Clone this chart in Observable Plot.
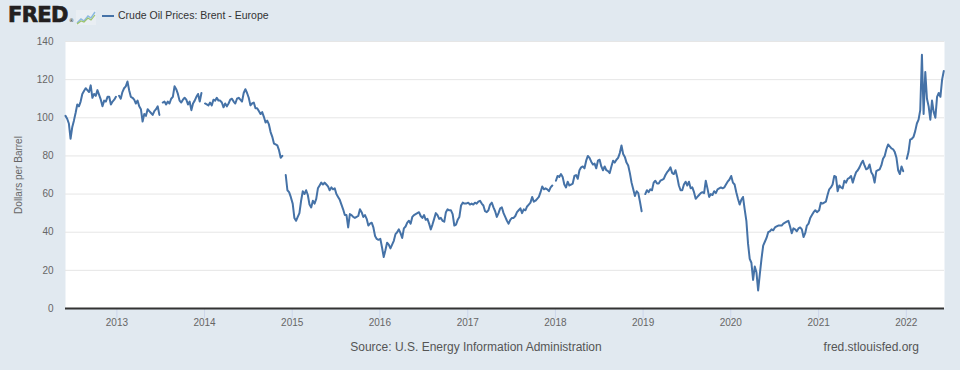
<!DOCTYPE html>
<html>
<head>
<meta charset="utf-8">
<script src="https://cdn.jsdelivr.net/npm/d3@7"></script>
<script src="https://cdn.jsdelivr.net/npm/@observablehq/plot@0.6"></script>
<style>
  html, body { margin: 0; padding: 0; background: #e1e9f0; }
  #wrap { position: relative; width: 960px; height: 370px; background: #e1e9f0; overflow: hidden;
          font-family: "Liberation Sans", Arial, sans-serif; }
  #chart { position: absolute; left: 0; top: 30px; }
  #logo { position: absolute; left: 8px; top: 3px; font: bold 21px "DejaVu Sans", sans-serif; color: #231f20;
          letter-spacing: -0.6px; -webkit-text-stroke: 0.7px #231f20; }
  #logo sup { font-size: 5px; font-weight: normal; vertical-align: 0; margin-left: 1px; -webkit-text-stroke: 0; }
  #icon { position: absolute; left: 76px; top: 10px; }
  #legline { position: absolute; left: 102px; top: 15px; width: 12px; height: 2px; background: #4572a7; }
  #legtext { position: absolute; left: 118px; top: 9px; font-size: 10.5px; color: #333; white-space: nowrap; }
  #source { position: absolute; left: 0; width: 952px; text-align: center; top: 340px; font-size: 12px; color: #555; }
  #site { position: absolute; right: 41px; top: 340px; font-size: 12px; color: #555; }
</style>
</head>
<body>
<div id="wrap">
  <div id="logo">FRED<sup>®</sup></div>
  <svg id="icon" width="20" height="15" viewBox="0 0 20 15">
    <rect x="0" y="0" width="20" height="15" fill="#e9eef3"/>
    <polyline points="1,13 5,9 8,11 12,6 15,8 19,2" fill="none" stroke="#8cb9e0" stroke-width="1.5"/>
    <polyline points="1,14 5,11 8,12 12,8 15,10 19,5" fill="none" stroke="#9cc46b" stroke-width="1.2"/>
  </svg>
  <div id="legline"></div>
  <div id="legtext">Crude Oil Prices: Brent - Europe</div>
  <div id="chart"></div>
  <div id="source">Source: U.S. Energy Information Administration</div>
  <div id="site">fred.stlouisfed.org</div>
</div>
<script>
// Weekly Brent spot prices (USD per barrel).
// 2012 series starts Fri 2012-06-01; other years start Jan 3, one value per week. null = missing data (gap).
const brent2012 = [101, 99.5, 97, 89, 95, 98.5, 102.5, 107, 106, 108.5, 112.5, 114, 115.5, 114.5, 113.5, 117, 110.5, 112.5, 111.5, 114.5, 112, 109.5, 106, 109, 108.5, 111, 111, 107, 108.5, 109.5, 111];
const brent2013 = [null, 111.5, 110, 113.5, 115.5, 116.5, 119, 114.5, 111, 110.5, 109.5, 107.5, 109, 106, 104.5, 98, 102, 101, 104.5, 103.5, 102.5, 101.5, 103.5, 104.5, 106, 101.5, null, 108, 108.5, 107, 108.5, 107.5, 110, 111, 116.5, 115, 112.5, 109, 108, 109.5, 110.5, 109.5, 107, 108.5, 104, 107.5, 109, 111, 112.5, 108.5, 113, null];
const brent2014 = [107.5, 107, 106.5, 108, 106.5, 109.5, 109, 110.5, 109, 109, 108, 105.5, 107.5, 106, 107.5, 109.5, 110, 108.5, 107.5, 110, 110.5, 109.5, 108.5, 113, 115, 113, 110.5, 106.5, 107.5, 108, 105, 105, 103.5, 102, 103, 100.5, 97.5, 98.5, 96.5, 92.5, 90, 86.5, 86, 85.5, 83, 79, 80, null, 70, 62, 61, 58.5];
const brent2015 = [55, 47.5, 46, 48, 50, 56.5, 61.5, 60, 62, 59.5, 54.5, 53, 56.5, 55, 57.5, 63, 64.5, 66, 65, 66, 65, 64, 62, 63.5, 62.5, 63, 60, 58.5, 57, 54.5, 52, 49, 49, 42.5, 49.5, 49, 48, 47.5, 48, 48.5, 52, 50.5, 48, 49, 47, 43.5, 44.5, 45, 42.5, 38, 36.5, 36];
const brent2016 = [36.5, 32, 27, 30.5, 34.5, 33.5, 31.5, 33.5, 35.5, 39, 40, 41.5, 39.5, 37, 42, 43, 45, 46, 44.5, 48, 49, 49.5, 50, 50.5, 48.5, 47.5, 49, 46.5, 47, 44.5, 41.5, 44, 47, 50, 49, 47, 47.5, 46, 45.5, 50.5, 52, 51.5, 51.5, 49.5, 43.5, 44, 46.5, 48, 54, 55.5, 55, 55];
const brent2017 = [55.5, 54.5, 55, 54.5, 55.5, 55, 56, 56.5, 55, 54, 51, 50.5, 51.5, 54.5, 55.5, 53, 51, 48, 50, 52.5, 53, 50, 48, 46, 44.5, 46.5, 47.5, 47.5, 48.5, 50.5, 51.5, 52.5, 50, 52, 51.5, 53.5, 54.5, 55.5, 58.5, 56, 56.5, 57.5, 58.5, 61, 64, 62.5, 63, 62.5, 61.5, 63.5, 64.5, null];
const brent2018 = [67, 69.5, 69, 70.5, 69, 65, 63.5, 66.5, 64.5, 65, 65.5, 69.5, 70, 68, 72.5, 74, 74.5, 73.5, 77.5, 80, 79, 77, 75.5, 76, 73.5, 77.5, 78, 74.5, 72.5, 74.5, 72.5, 72, 71, 74.5, 77.5, 76.5, 78, 79, 81.5, 85.5, 81, 79.5, 76.5, 75, 71, 66, 62.5, 59, 61.5, 60.5, 56, 51];
const brent2019 = [null, 60, 62, 61, 62.5, 62, 66, 67, 65.5, 65.5, 67, 67.5, 68, 70, 71.5, 72.5, 74, 71, 70.5, 72.5, 69, 64.5, 62, 62, 65, 66.5, 64.5, 66.5, 63, 63.5, 61, 57.5, 58.5, 59.5, 60.5, 61, 60.5, 67, 63, 58.5, 60, 59.5, 61.5, 60.5, 62.5, 63, 63.5, 63, 63.5, 65, 66.5, 67.5];
const brent2020 = [69.5, 66, 65, 61, 57.5, 54.5, 57, 58.5, 52, 46, 34, 26, 24, 15, 22, 19, 9.5, 18, 26, 33, 35, 37, 40, 40.5, 41.5, 41, 42.5, 43, 43.5, 43.5, 43.5, 44.5, 45, 45.5, 46, 43, 39.5, 42, 41.5, 40.5, 42, 42.5, 41.5, 37.5, 39.5, 43.5, 44.5, 47.5, 49, 50.5, 51.5, 50.5];
const brent2021 = [51.5, 55.5, 55, 55.5, 56, 59.5, 62.5, 63.5, 65, 69.5, 69, 61.5, 64.5, 63.5, 63, 67, 66, 68, 68.5, 69.5, 66, 69, 71.5, 72.5, 74, 76, 77.5, 75, 73, 73.5, 75.5, 71.5, 70, 66, 72, 72.5, 73, 75, 78.5, 80, 83.5, 86, 85, 84, 83.5, 82, 79, 72.5, 70.5, 74.5, 72, null];
const brent2022 = [78.5, 82, 88.5, 89, 90, 93, 97, 99, 104, 133, 102, 124, 110, 106, 99, 109, 103, 100, 111, 113, 111, 120, 124.5];

const seriesByYear = [
  [2012, 5, 1, brent2012],
  [2013, 0, 3, brent2013], [2014, 0, 3, brent2014], [2015, 0, 3, brent2015],
  [2016, 0, 3, brent2016], [2017, 0, 3, brent2017], [2018, 0, 3, brent2018],
  [2019, 0, 3, brent2019], [2020, 0, 3, brent2020], [2021, 0, 3, brent2021],
  [2022, 0, 3, brent2022]
];

const yTicks = [0, 20, 40, 60, 80, 100, 120, 140];
const xTickYears = [2013, 2014, 2015, 2016, 2017, 2018, 2019, 2020, 2021, 2022];
const xTicks = xTickYears.map(y => new Date(Date.UTC(y, 0, 1)));

const data = [];
for (const [yr, mo, day, vals] of seriesByYear) {
  vals.forEach((v, i) => data.push({date: new Date(Date.UTC(yr, mo, day + 7 * i)), value: v}));
}

const chart = Plot.plot({
  width: 960,
  height: 300,
  marginLeft: 65,
  marginRight: 16,
  marginTop: 11,
  marginBottom: 22,
  style: {background: "transparent", fontFamily: "'Liberation Sans', Arial, sans-serif", overflow: "visible"},
  x: {type: "utc", domain: [new Date(Date.UTC(2012, 5, 1)), new Date(Date.UTC(2022, 5, 9))]},
  y: {domain: [0, 140]},
  marks: [
    Plot.frame({fill: "white", stroke: "none"}),
    Plot.gridY(yTicks, {stroke: "#e6e6e6", strokeOpacity: 1}),
    Plot.axisY(yTicks, {tickSize: 0, tickPadding: 12, fontSize: 10, fill: "#666",
      label: "Dollars per Barrel", labelAnchor: "center", labelArrow: "none", labelOffset: 51}),
    Plot.axisX(xTicks, {tickSize: 10, tickPadding: 0, stroke: "#ccd6eb", strokeOpacity: 1, fontSize: 10, fill: "#666",
      tickFormat: d3.utcFormat("%Y"), label: null}),
    Plot.line(data, {x: "date", y: "value", stroke: "#4572a7", strokeWidth: 2}),
    Plot.ruleY([0], {stroke: "#333", strokeWidth: 2})
  ]
});
document.getElementById("chart").appendChild(chart);
</script>
</body>
</html>
